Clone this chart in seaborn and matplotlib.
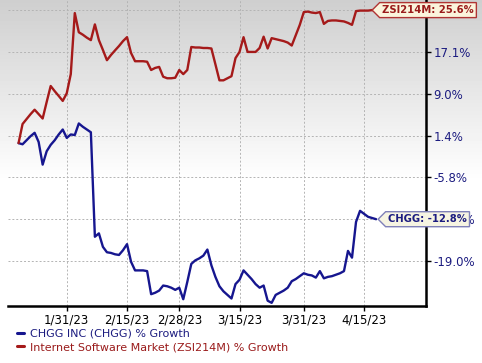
import numpy as np
import pandas as pd
import matplotlib
matplotlib.use("Agg")
import matplotlib.pyplot as plt
from matplotlib.path import Path
import seaborn as sns

# daily % growth since 1/19/23
start_date = "2023-01-19"
chegg = [0.1, -0.1, 0.6, 1.3, 1.9, 0.3, -3.6, -1.3, -0.2, 0.6,
         1.6, 2.5, 1.0, 1.6, 1.5, 3.6, 3.0, 2.5, 2.0, -15.4,
         -14.9, -16.9, -17.7, -17.8, -18.0, -18.1, -17.4, -16.5, -19.1, -20.3,
         -20.3, -20.3, -20.4, -23.6, -23.4, -23.1, -22.4, -22.5, -22.7, -23.0,
         -22.7, -24.3, -21.9, -19.4, -18.9, -18.6, -18.2, -17.3, -19.6, -21.2,
         -22.5, -23.2, -23.7, -24.2, -22.2, -21.6, -20.3, -20.9, -21.5, -22.2,
         -22.7, -22.4, -24.5, -24.8, -23.7, -23.4, -23.1, -22.7, -21.8, -21.5,
         -21.1, -20.7, -20.9, -21.0, -21.3, -20.4, -21.4, -21.2, -21.1, -20.9,
         -20.7, -20.4, -17.5, -18.5, -13.2, -11.4, -11.9, -12.4, -12.6, -12.8]
zsi = [0.1, 3.5, 4.4, 5.3, 6.1, 5.3, 4.5, 7.5, 10.5, 9.5,
       8.6, 7.7, 9.1, 12.8, 25.0, 21.1, 20.6, 20.0, 19.5, 22.7,
       19.5, 17.5, 15.5, 16.5, 17.4, 18.3, 19.3, 20.1, 16.9, 15.3,
       15.3, 15.3, 15.2, 13.6, 14.0, 14.2, 12.3, 12.0, 12.0, 12.1,
       13.6, 12.8, 13.6, 18.1, 18.0, 18.0, 17.9, 17.9, 17.8, 14.7,
       11.6, 11.6, 12.0, 12.4, 15.9, 17.1, 20.1, 17.1, 17.1, 17.1,
       17.9, 20.2, 17.8, 19.9, 19.7, 19.5, 19.3, 19.0, 18.4, 20.5,
       22.6, 25.2, 25.3, 25.1, 25.0, 25.2, 22.8, 23.4, 23.5, 23.5,
       23.4, 23.3, 23.0, 22.6, 25.4, 25.5, 25.5, 25.5, 25.6, 25.6]

series_names = ["CHGG INC (CHGG) % Growth", "Internet Software Market (ZSI214M) % Growth"]
short_names = ["CHGG", "ZSI214M"]
line_colors = ["#16168f", "#a51a1a"]
text_colors = ["#1c1c80", "#9a1b1b"]

# top gridline label sits under the ZSI tag in the original, so it is left blank
ytick_vals = [25.6, 17.1, 9.0, 1.4, -5.8, -12.8, -19.0]
ytick_labels = ["", "17.1%", "9.0%", "1.4%", "-5.8%", "-12.8%", "-19.0%"]
xtick_dates = ["2023-01-31", "2023-02-15", "2023-02-28", "2023-03-15", "2023-03-31", "2023-04-15"]
xtick_labels = ["1/31/23", "2/15/23", "2/28/23", "3/15/23", "3/31/23", "4/15/23"]

# growth axis is spaced like a log-return scale: equal steps between the gridlines
scale_vals = [-30.1, -24.8, -19.0, -12.8, -5.8, 1.4, 9.0, 17.1, 25.6, 34.7]
scale_pos = np.arange(len(scale_vals), dtype=float)


def fwd(v):
    return np.interp(v, scale_vals, scale_pos)


def inv(p):
    return np.interp(p, scale_pos, scale_vals)


def tag_box(x0, y0, width, height, mutation_size):
    pad = 0.25 * mutation_size
    x0, y0 = x0 - pad, y0 - pad
    x1, y1 = x0 + width + 2 * pad, y0 + height + 2 * pad
    tip = (y1 - y0) / 2
    ym = (y0 + y1) / 2
    verts = [(x0 - tip, ym), (x0, y0), (x1, y0), (x1, y1), (x0, y1), (x0 - tip, ym)]
    return Path(verts, closed=True)


dates = pd.date_range(start_date, periods=len(chegg), freq="D")
df = pd.concat([
    pd.DataFrame({"date": dates, "growth": chegg, "series": series_names[0]}),
    pd.DataFrame({"date": dates, "growth": zsi, "series": series_names[1]}),
])

sns.set_theme(style="white")
plt.rcParams["font.family"] = ["DejaVu Sans"]

fig = plt.figure(figsize=(4.82, 3.63), dpi=100)

# grey-to-white backdrop
bg = fig.add_axes([0, 0, 1, 1], zorder=-10)
rows = np.linspace(0, 1, 363)
shade = np.clip(rows / 0.5, 0, 1)
grad = 0.81 + 0.19 * shade
bg.imshow(np.repeat(grad[:, None], 2, axis=1), cmap="gray", vmin=0, vmax=1,
          aspect="auto", extent=[0, 1, 0, 1], origin="upper")
bg.set_axis_off()

ax = fig.add_axes([8 / 482, 57 / 363, 418 / 482, 306 / 363])
ax.set_facecolor("none")

sns.lineplot(data=df, x="date", y="growth", hue="series",
             palette=dict(zip(series_names, line_colors)),
             linewidth=1.7, ax=ax, legend=True)

ax.set_yscale("function", functions=(fwd, inv))
ax.set_ylim(-25.2, 27.8)
ax.set_xlim(pd.Timestamp("2023-01-16 09:00"), pd.Timestamp("2023-04-30 10:00"))

ax.yaxis.tick_right()
ax.set_yticks(ytick_vals)
ax.set_yticklabels(ytick_labels)
ax.set_xticks(pd.to_datetime(xtick_dates))
ax.set_xticklabels(xtick_labels)
ax.minorticks_off()
ax.set_xlabel("")
ax.set_ylabel("")

ax.grid(True, color="#b4b4b4", linestyle=(0, (2, 2)), linewidth=0.7)
ax.tick_params(axis="x", direction="out", length=3.5, width=1, color="black",
               labelsize=8.5, labelcolor="black", pad=2, bottom=True)
ax.tick_params(axis="y", direction="out", length=3.5, width=1, color="black",
               labelsize=8.5, labelcolor="#1c1c80", pad=2, right=True, left=False)

for side in ["left", "top"]:
    ax.spines[side].set_visible(False)
for side in ["bottom", "right"]:
    ax.spines[side].set_color("black")
    ax.spines[side].set_linewidth(1.8)

# end-of-line value tags
last = dates[-1]
for vals, name, tc, lc, face, dx in [(zsi, short_names[1], text_colors[1], "#b03434", "#fbf4dc", 6),
                                     (chegg, short_names[0], text_colors[0], "#7f80b8", "#f6f4e2", 12)]:
    ax.annotate(f"{name}: {vals[-1]:.1f}%", xy=(last, vals[-1]),
                xytext=(dx, 0), textcoords="offset pixels",
                ha="left", va="center", fontsize=7.2, fontweight="bold", color=tc,
                bbox=dict(boxstyle=tag_box, fc=face, ec=lc, lw=1.0),
                annotation_clip=False, zorder=5)

handles, labels = ax.get_legend_handles_labels()
ax.get_legend().remove()
leg = fig.legend(handles, labels, loc="upper left", bbox_to_anchor=(17 / 482, 0.094),
                 frameon=False, fontsize=8, handlelength=0.6, handletextpad=0.6,
                 borderpad=0, borderaxespad=0, labelspacing=0.3)
for txt, col in zip(leg.get_texts(), text_colors):
    txt.set_color(col)
for h in leg.legend_handles:
    h.set_linewidth(2.2)

fig.savefig("out.png", dpi=100)
